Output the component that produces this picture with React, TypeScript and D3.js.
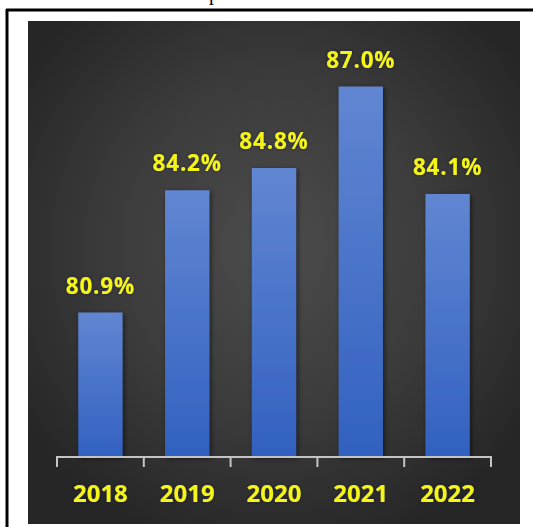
import React from "react";
import * as d3 from "d3";

const years = ["2018", "2019", "2020", "2021", "2022"];
const values = [80.9, 84.2, 84.8, 87.0, 84.1];
const valueLabels = ["80.9%", "84.2%", "84.8%", "87.0%", "84.1%"];

const W = 533;
const H = 527;

export default function App() {
  const x = d3
    .scaleBand<string>()
    .domain(years)
    .range([57, 491])
    .paddingInner(0.49)
    .paddingOuter(0.245);
  const y = d3.scaleLinear().domain([77, 88]).range([457, 49.5]);
  const step = x.step();
  const tickXs = years.map((_, i) => 57 + i * step).concat([491]);
  const yellow = "#f5f516";
  const font = "'Open Sans', 'Liberation Sans', sans-serif";

  return (
    <div style={{ position: "absolute", left: 0, top: 0 }}>
      <svg width={W} height={H} style={{ display: "block" }}>
        <defs>
          <radialGradient id="bg" cx="0.5" cy="0.45" r="0.62">
            <stop offset="0" stopColor="#4c4c4c" />
            <stop offset="0.55" stopColor="#3b3b3b" />
            <stop offset="1" stopColor="#262626" />
          </radialGradient>
          <linearGradient id="bar" x1="0" y1="0" x2="0" y2="1">
            <stop offset="0" stopColor="#6186d2" />
            <stop offset="1" stopColor="#3261c0" />
          </linearGradient>
          <filter id="sh" x="-30%" y="-10%" width="160%" height="120%">
            <feDropShadow dx="1.5" dy="1.5" stdDeviation="2.5" floodColor="#000" floodOpacity="0.55" />
          </filter>
          <filter id="tsh" x="-20%" y="-30%" width="140%" height="160%">
            <feDropShadow dx="0" dy="0" stdDeviation="1.5" floodColor="#1a1a40" floodOpacity="0.7" />
          </filter>
        </defs>
        <rect x={0} y={0} width={W} height={H} fill="#ffffff" />
        <text x={209} y={-0.5} fontFamily="'Liberation Serif', serif" fontSize={20} fill="#000">p</text>
        <line x1={6} x2={533} y1={10} y2={10} stroke="#000" strokeWidth={3} />
        <line x1={7} x2={7} y1={9} y2={527} stroke="#000" strokeWidth={3} />
        <rect x={28} y={21} width={492} height={503} fill="url(#bg)" />
        {years.map((yr, i) => (
          <rect
            key={yr}
            x={x(yr)!}
            y={y(values[i])}
            width={x.bandwidth()}
            height={y(77) - y(values[i])}
            fill="url(#bar)"
            filter="url(#sh)"
          />
        ))}
        <line x1={57} x2={491} y1={457} y2={457} stroke="#c4c4c4" strokeWidth={2} />
        {tickXs.map((tx, i) => (
          <line key={i} x1={tx} x2={tx} y1={456} y2={467} stroke="#c4c4c4" strokeWidth={2} />
        ))}
        {years.map((yr, i) => (
          <text
            key={"v" + yr}
            x={x(yr)! + x.bandwidth() / 2}
            y={y(values[i]) - 19}
            textAnchor="middle"
            fontFamily={font}
            fontWeight="bold"
            fontSize={22.5}
            letterSpacing={0.8}
            fill={yellow}
            filter="url(#tsh)"
          >
            {valueLabels[i]}
          </text>
        ))}
        {years.map((yr) => (
          <text
            key={"y" + yr}
            x={x(yr)! + x.bandwidth() / 2}
            y={502}
            textAnchor="middle"
            fontFamily={font}
            fontWeight="bold"
            fontSize={24}
            fill={yellow}
            filter="url(#tsh)"
          >
            {yr}
          </text>
        ))}
      </svg>
    </div>
  );
}
